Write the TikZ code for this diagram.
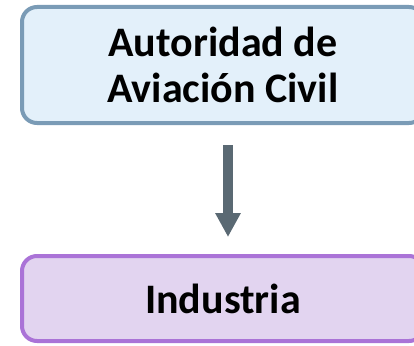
\documentclass[tikz,border=0pt]{standalone}
\usepackage{fontspec}
\setmainfont{Carlito}
\usetikzlibrary{arrows.meta}
\definecolor{aacborder}{RGB}{122,155,182}
\definecolor{aacfill}{RGB}{227,240,250}
\definecolor{indborder}{RGB}{170,115,215}
\definecolor{indfill}{RGB}{226,212,240}
\definecolor{arrowgray}{RGB}{90,105,115}
\tikzset{>={Triangle[width=24pt,length=24pt]}}

\begin{document}
\begin{tikzpicture}[x=1pt, y=1pt,
  box/.style={rounded corners=15pt, line width=4pt, minimum width=402pt,
    align=center, inner sep=0pt,
    font=\fontsize{42}{46.5}\selectfont\bfseries},
  aacbox/.style={box, draw=aacborder, fill=aacfill, minimum height=116pt},
  indbox/.style={box, draw=indborder, fill=indfill, minimum height=85pt},
  flow/.style={->, line width=10pt, draw=arrowgray}]

  \useasboundingbox (0,0) rectangle (414,-345);

  \node[aacbox] (aac) at (223,-65) {Autoridad de\\Aviación Civil};
  \node[indbox] (ind) at (223,-298.5) {Industria};

  \draw[flow, shorten <=20pt, shorten >=17pt]
    ([xshift=5pt]aac.south) -- ([xshift=5pt]ind.north);
\end{tikzpicture}
\end{document}
